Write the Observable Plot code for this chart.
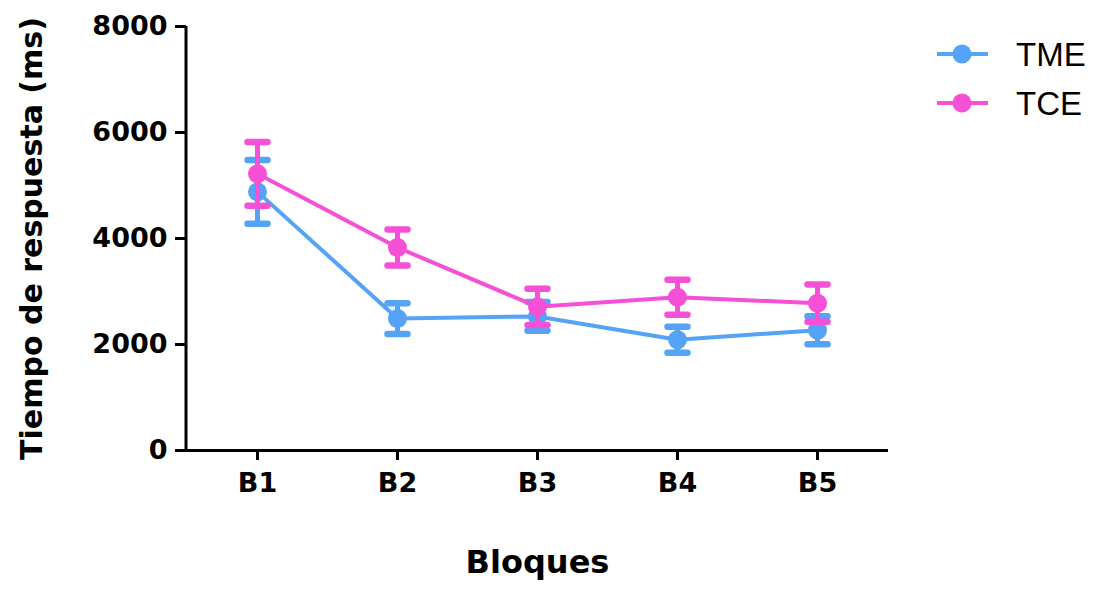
<!DOCTYPE html>
<html>
<head>
<meta charset="utf-8">
<script src="https://cdn.jsdelivr.net/npm/d3@7"></script>
<script src="https://cdn.jsdelivr.net/npm/@observablehq/plot@0.6"></script>
<style>
  html, body { margin: 0; padding: 0; background: #fff; }
  #wrap { position: relative; width: 1097px; height: 591px; }
</style>
</head>
<body>
<div id="wrap"></div>
<script>
const blocks = ["B1", "B2", "B3", "B4", "B5"];
const seriesNames = ["TME", "TCE"];
const seriesColors = ["#55a3f7", "#f550d6"];
const tmeMean = [4880, 2490, 2530, 2090, 2270];
const tmeSem = [600, 290, 270, 245, 265];
const tceMean = [5220, 3830, 2710, 2890, 2780];
const tceSem = [600, 340, 340, 330, 350];
const yTicks = [0, 2000, 4000, 6000, 8000];

const means = [tmeMean, tceMean];
const sems = [tmeSem, tceSem];
const rows = [];
seriesNames.forEach((s, si) => {
  blocks.forEach((b, bi) => {
    rows.push({series: s, block: b, mean: means[si][bi], lo: means[si][bi] - sems[si][bi], hi: means[si][bi] + sems[si][bi]});
  });
});

const capSymbol = {
  draw(context) {
    context.moveTo(-10, 0);
    context.lineTo(10, 0);
  }
};

const font = "DejaVu Sans";
const seriesMarks = [];
seriesNames.forEach((s, si) => {
  const d = rows.filter(r => r.series === s);
  const c = seriesColors[si];
  seriesMarks.push(
    Plot.lineY(d, {x: "block", y: "mean", stroke: c, strokeWidth: 4}),
    Plot.ruleX(d, {x: "block", y1: "lo", y2: "hi", stroke: c, strokeWidth: 5}),
    Plot.dot(d, {x: "block", y: "lo", symbol: capSymbol, stroke: c, strokeWidth: 6.5, strokeLinecap: "round", fill: "none"}),
    Plot.dot(d, {x: "block", y: "hi", symbol: capSymbol, stroke: c, strokeWidth: 6.5, strokeLinecap: "round", fill: "none"}),
    Plot.dot(d, {x: "block", y: "mean", fill: c, r: 9.5})
  );
});

const plot = Plot.plot({
  width: 1097,
  height: 591,
  marginLeft: 186,
  marginRight: 209,
  marginTop: 26,
  marginBottom: 141,
  style: {fontFamily: font, background: "#fff", color: "#000", overflow: "visible"},
  x: {type: "point", domain: blocks, padding: 0.5, label: null},
  y: {domain: [0, 8000], label: null},
  marks: [
    Plot.axisY({ticks: yTicks, tickFormat: d3.format("d"), tickSize: 11, tickPadding: 8, strokeWidth: 3, fontSize: 27, fontWeight: "bold", label: null}),
    Plot.axisX({tickSize: 10, tickPadding: 12, strokeWidth: 3, fontSize: 27, fontWeight: "bold", label: null}),
    Plot.ruleY([0], {stroke: "#000", strokeWidth: 3}),
    ...seriesMarks,
    Plot.text(["Bloques"], {frameAnchor: "bottom", dy: 122, fontSize: 32, fontWeight: "bold", fill: "#000"}),
    Plot.text(["Tiempo de respuesta (ms)"], {frameAnchor: "left", textAnchor: "middle", dx: -154, rotate: -90, fontSize: 30, fontWeight: "bold", fill: "#000"})
  ]
});

const svg = d3.select(plot);
const yS = plot.scale("y");
svg.append("line")
  .attr("x1", 186).attr("x2", 186)
  .attr("y1", yS.apply(8000)).attr("y2", yS.apply(0) + 1.5)
  .attr("stroke", "#000").attr("stroke-width", 3);

const lg = svg.append("g");
seriesNames.forEach((s, i) => {
  const y = 54 + i * 49;
  lg.append("line").attr("x1", 937).attr("x2", 988).attr("y1", y).attr("y2", y)
    .attr("stroke", seriesColors[i]).attr("stroke-width", 4);
  lg.append("circle").attr("cx", 962).attr("cy", y).attr("r", 9.5).attr("fill", seriesColors[i]);
  lg.append("text").attr("x", 1016).attr("y", y + 12).text(s)
    .style("font-family", "Liberation Sans, Arial, sans-serif").style("font-size", "33px")
    .style("text-anchor", "start").attr("fill", "#000");
});

document.getElementById("wrap").appendChild(plot);
</script>
</body>
</html>
